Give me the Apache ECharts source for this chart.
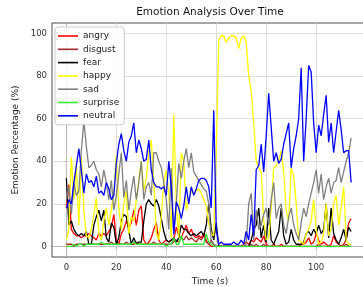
<!DOCTYPE html>
<html>
<head>
<meta charset="utf-8">
<title>Emotion Analysis Over Time</title>
<script src="https://cdn.jsdelivr.net/npm/echarts@6.0.0/dist/echarts.min.js"></script>
<style>
html,body{margin:0;padding:0;background:#fff;}
#emoChart{width:363px;height:287px;}
</style>
</head>
<body>
<div id="emoChart"></div>
<script>
// 每秒一个点 (t = 0 .. 114)
var angry = [18,29,8,6,5,5,4,5,5,6, 5,4,3,6,5,6,5,7,9,15, 3,1,6,8,12,9,11,17,10,17,
	19,3,1,2,4,8,11,3,1,2, 3,2,3,3,9,5,4,7,10,6, 8,5,4,5,4,6,3,1,0,0,
	0,0,0,0,0,0,0,0,0,0, 0,1,2,1,3,2,4,3,2,5, 1,0,0,1,0,0,1,0,0,0,
	0,0,0,0,1,1,2,4,1,2, 6,3,1,2,1,0,1,5,2,1, 0,1,3,11,13];
var disgust = [1,1,1,0,1,1,1,1,1,1, 1,1,1,1,1,1,1,1,2,1, 1,1,1,1,2,1,1,1,2,1,
	1,1,1,1,1,2,1,1,1,1, 1,1,1,2,3,2,4,3,5,3, 4,3,2,4,3,5,2,1,3,1,
	0,0,0,0,0,0,0,0,0,0, 0,0,0,0,1,0,1,0,0,1, 0,0,0,0,0,0,0,0,0,0,
	0,0,0,0,0,0,0,0,0,0, 0,1,0,0,0,0,0,0,0,0, 0,0,1,0,0];
var fear = [32,10,12,8,6,5,6,5,7,1, 1,10,14,17,12,17,4,2,11,9, 1,4,12,15,14,7,1,4,1,2,
	2,12,20,22,20,19,22,19,13,7, 3,2,3,4,2,4,10,8,8,6, 5,6,5,6,7,5,10,20,8,3,
	11,0,0,0,0,0,0,0,0,0, 0,0,0,0,3,8,10,18,4,10, 2,18,3,1,4,7,18,5,1,2,
	8,3,1,1,1,2,6,7,5,8, 6,10,6,8,20,4,18,6,3,1, 4,8,3,9,7];
var happy = [3,8,42,22,39,10,42,17,5,4, 8,15,23,6,3,12,18,10,17,25, 43,18,8,20,26,6,14,12,22,31,
	40,26,32,44,50,30,6,3,14,30, 36,25,4,62,20,4,44,40,17,22, 26,25,26,27,25,22,19,11,6,5,
	45,97,99,99,96,98,99,99,98,93, 98,99,96,80,73,58,40,37,35,12, 3,4,18,37,38,40,45,35,17,12,
	37,33,20,3,2,1,6,8,12,22, 8,1,2,6,20,5,8,20,24,10, 18,28,3,1,1];
var sad = [22,28,15,30,24,26,45,59,47,37, 38,40,36,34,28,36,30,22,31,17, 24,34,44,23,31,17,26,33,22,30,
	40,22,28,30,24,44,44,40,37,30, 22,8,37,5,20,39,32,40,46,37, 44,35,33,31,29,27,26,20,2,1,
	0,0,0,0,0,0,0,0,0,0, 0,0,1,20,25,3,17,8,10,15, 18,10,22,30,13,18,20,10,6,14,
	18,10,6,3,11,18,14,20,25,30, 36,25,34,22,28,32,25,30,31,37, 30,35,40,44,51];
var surprise = [0,0,0,1,0,1,1,0,1,1, 1,1,1,1,2,1,1,1,1,1, 1,1,1,1,1,1,1,2,1,1,
	1,1,1,1,1,1,1,1,1,1, 0,1,1,4,1,1,5,1,1,1, 1,1,1,1,1,1,6,2,1,0,
	0,0,0,0,0,0,0,0,0,0, 0,0,0,0,0,0,0,0,0,0, 0,0,0,0,0,0,0,0,0,0,
	0,0,0,0,0,0,0,0,0,0, 0,0,0,0,0,0,0,0,0,0, 0,0,0,0,0];
var neutral = [18,22,20,30,38,46,36,25,34,30, 31,28,33,25,26,24,30,27,22,24, 39,48,53,45,40,49,52,58,44,50,
	46,40,41,50,36,30,28,28,27,28, 24,40,28,6,21,18,13,19,28,20, 28,24,27,31,32,32,31,28,18,64,
	8,1,2,1,1,1,1,2,1,1, 3,1,7,3,15,5,36,38,48,35, 52,72,56,40,44,39,41,48,53,58,
	37,46,52,60,84,40,60,85,82,58, 44,57,52,62,71,49,58,44,54,64, 55,44,45,45,30];

var xTicks = [0,20,40,60,80,100];
var yTicks = [0,20,40,60,80,100];
var names = ['angry','disgust','fear','happy','sad','surprise','neutral'];
var colors = ['#ff0000','#a52a2a','#000000','#ffff00','#808080','#33e833','#0000ff'];
var values = [angry,disgust,fear,happy,sad,surprise,neutral];

var font = 'DejaVu Sans';

function toPoints(arr){
	var pts = [];
	for (var i = 0; i < arr.length; i++) {
		pts.push([i, arr[i]]);
	}
	return pts;
}

var seriesList = [];
// 网格线 (放在折线下面)
var gridMarks = [];
for (var i = 0; i < xTicks.length; i++) gridMarks.push({xAxis: xTicks[i]});
for (var j = 0; j < yTicks.length; j++) gridMarks.push({yAxis: yTicks[j]});
seriesList.push({
	type:'line',
	data:[],
	z:1,
	silent:true,
	markLine:{
		z:1,
		silent:true,
		symbol:['none','none'],
		label:{show:false},
		animation:false,
		lineStyle:{color:'#d6d6d6', width:0.8, type:'solid'},
		data:gridMarks
	}
});
for (var k = 0; k < names.length; k++) {
	seriesList.push({
		name:names[k],
		type:'line',
		symbol:'none',
		z:2,
		data:toPoints(values[k]),
		lineStyle:{color:colors[k], width:1.3},
		itemStyle:{color:colors[k]}
	});
}

var option = {
	animation:false,
	backgroundColor:'#fff',
	graphic:[{
		type:'text',
		x:210,
		y:7,
		style:{text:'Emotion Analysis Over Time', font:'10.5px ' + font, fill:'#111', textAlign:'center'}
	}],
	legend:{
		data:names,
		orient:'vertical',
		left:55,
		top:27,
		z:10,
		icon:'rect',
		itemWidth:20,
		itemHeight:1.6,
		itemGap:3.3,
		padding:[4,5,4,3],
		backgroundColor:'rgba(255,255,255,0.85)',
		borderColor:'#cccccc',
		borderWidth:1,
		borderRadius:3,
		textStyle:{fontFamily:font, fontSize:9, color:'#222', lineHeight:10}
	},
	grid:{
		show:true,
		left:52,
		top:23,
		width:316,
		height:234,
		outerBoundsMode:'none',
		containLabel:false,
		borderColor:'#222',
		borderWidth:0.8,
		backgroundColor:'transparent'
	},
	xAxis:{
		type:'value',
		min:-5.75,
		max:120.75,
		name:'Time (s)',
		nameLocation:'middle',
		nameGap:19,
		nameTextStyle:{fontFamily:font, fontSize:9, color:'#222'},
		axisLine:{show:true, lineStyle:{color:'#222', width:0.8}},
		axisTick:{show:true, length:3, customValues:xTicks, lineStyle:{color:'#222', width:0.8}},
		axisLabel:{fontFamily:font, fontSize:8.5, color:'#333', margin:6, customValues:xTicks},
		splitLine:{show:false}
	},
	yAxis:{
		type:'value',
		min:-5,
		max:105,
		name:'Emotion Percentage (%)',
		nameLocation:'middle',
		nameGap:21,
		nameTextStyle:{fontFamily:font, fontSize:9, color:'#222'},
		axisLine:{show:true, lineStyle:{color:'#222', width:0.8}},
		axisTick:{show:true, length:3, customValues:yTicks, lineStyle:{color:'#222', width:0.8}},
		axisLabel:{fontFamily:font, fontSize:8.5, color:'#333', margin:5, customValues:yTicks},
		splitLine:{show:false}
	},
	series:seriesList
};

var myChart = echarts.init(document.getElementById('emoChart'));
myChart.setOption(option);
</script>
</body>
</html>
